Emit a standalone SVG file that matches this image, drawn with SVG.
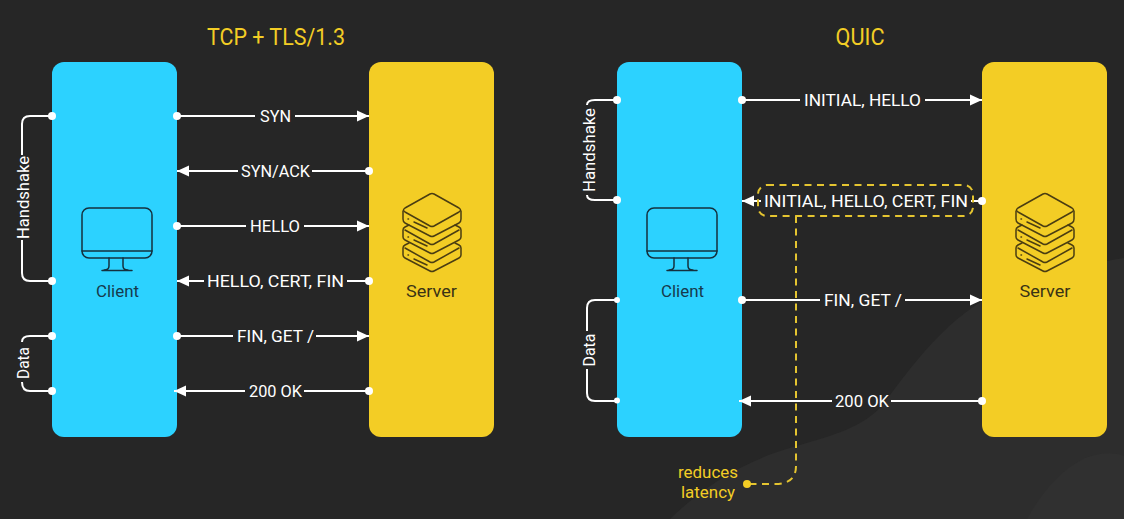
<svg xmlns="http://www.w3.org/2000/svg" width="1124" height="519" viewBox="0 0 1124 519">
<style>
text{font-family:"Roboto","Liberation Sans",sans-serif}
.l{fill:#fff;font-size:16.500px;text-anchor:middle}
.ln{fill:none;stroke:#fff;stroke-width:2}
.d{fill:#fff}
.nc{fill:#163a4d;font-size:16.500px;text-anchor:middle}
.ns{fill:#3a3315;font-size:16.500px;text-anchor:middle}
.ic{fill:none;stroke:#14303e;stroke-width:1.500;stroke-linejoin:round;stroke-linecap:round}
.ics{fill:none;stroke:#4a3d12;stroke-width:1.500;stroke-linejoin:round;stroke-linecap:round}
.y{fill:#f3cd25}
.t{fill:#f3cd25;font-size:24px;text-anchor:middle}
.dash{fill:none;stroke:#e4c430;stroke-width:2;stroke-dasharray:7 5.500}
.n{fill:#f3cd25;font-size:16px;text-anchor:middle}
</style>
<defs>
<marker id="a" markerWidth="12" markerHeight="12" refX="12" refY="6" orient="auto" markerUnits="userSpaceOnUse"><path d="M0 0.500L12 6L0 11.500Z" fill="#fff"/></marker>
<g id="monitor"><rect x="82" y="208" width="70" height="50" rx="7" class="ic"/><path d="M82 251H152M109 258V266Q109 270 104 270M123 258V266Q123 270 128 270M102 270.500H132" class="ic"/></g>
<g id="stack">
<path d="M1043 194L1018 208Q1015 210 1018 212L1043 226Q1045 227 1047 226L1072 212Q1075 210 1072 208L1047 194Q1045 193 1043 194Z" class="ics"/>
<path d="M1016 211V219Q1016 222 1018 223L1043 236Q1045 237 1047 236L1072 223Q1074 222 1074 219V211" class="ics"/>
<path d="M1022 225L1018 227Q1016 228 1016 230V237Q1016 239 1018 240L1043 253Q1045 254 1047 253L1072 240Q1074 239 1074 237V230Q1074 228 1072 227L1068 225M1018 230L1043 244Q1045 245 1047 244L1072 230" class="ics"/>
<path d="M1022 243L1018 245Q1016 246 1016 248V255Q1016 257 1018 258L1043 271Q1045 272 1047 271L1072 258Q1074 257 1074 255V248Q1074 246 1072 245L1068 243M1018 248L1043 262Q1045 263 1047 262L1072 248" class="ics"/>
<path d="M1027 222L1040 228M1027 240L1040 246M1027 259L1040 265M1021 219H1021.500M1021 237H1021.500M1021 255H1021.500" class="ics"/>
</g>
</defs>
<rect width="1124" height="519" fill="#262626"/>
<path d="M670 519C700 490 740 462 793 447C830 436 865 428 885 402C920 355 960 300 1030 280C1070 268 1100 262 1124 258V519Z" fill="#2d2d2d"/>
<path d="M1027 519C1040 495 1060 470 1085 458C1100 452 1115 452 1124 456V519Z" fill="#303030"/>
<text class="t" x="276" y="44.500" textLength="138" lengthAdjust="spacingAndGlyphs">TCP + TLS/1.3</text>
<text class="t" x="860" y="44.500" textLength="49" lengthAdjust="spacingAndGlyphs">QUIC</text>

<g id="client-left"><rect x="52" y="62" width="125" height="375" rx="12" fill="#2cd2ff"/><use href="#monitor"/><text class="nc" x="117.500" y="297" textLength="43" lengthAdjust="spacingAndGlyphs">Client</text></g>
<g id="server-left"><rect x="369" y="62" width="125" height="375" rx="12" class="y"/><use href="#stack" x="-613"/><text class="ns" x="431.500" y="297" textLength="51" lengthAdjust="spacingAndGlyphs">Server</text></g>
<g id="client-right"><rect x="617" y="62" width="125" height="375" rx="12" fill="#2cd2ff"/><use href="#monitor" x="565"/><text class="nc" x="682.500" y="297" textLength="43" lengthAdjust="spacingAndGlyphs">Client</text></g>
<g id="server-right"><rect x="982" y="62" width="125" height="375" rx="12" class="y"/><use href="#stack"/><text class="ns" x="1045" y="297" textLength="51" lengthAdjust="spacingAndGlyphs">Server</text></g>

<g id="connectors">
<path class="ln" d="M52 116H30Q22 116 22 124V155M22 240V273Q22 281 30 281H52"/>
<path class="ln" d="M52 336H30Q22 336 22 342M22 382Q22 391 30 391H52"/>
<path class="ln" d="M177 116H255M295 116H369" marker-end="url(#a)"/>
<path class="ln" d="M369 171H312M238 171H177" marker-end="url(#a)"/>
<path class="ln" d="M177 226H246M304 226H369" marker-end="url(#a)"/>
<path class="ln" d="M369 281H347M204 281H177" marker-end="url(#a)"/>
<path class="ln" d="M177 336H233M316 336H369" marker-end="url(#a)"/>
<path class="ln" d="M369 391H304M245 391H174" marker-end="url(#a)"/>
<path class="ln" d="M617 100H595Q587 100 587 105M587 195Q587 200 595 200H617"/>
<path class="ln" d="M617 300H595Q587 300 587 308V331M587 369V393Q587 401 595 401H617"/>
<path class="ln" d="M742 100H800M925 100H982" marker-end="url(#a)"/>
<path class="ln" d="M982 201H971M761 201H742" marker-end="url(#a)"/>
<path class="ln" d="M742 300H820M905 300H982" marker-end="url(#a)"/>
<path class="ln" d="M982 401H891M832 401H739" marker-end="url(#a)"/>
<rect class="dash" x="758" y="185" width="215" height="31" rx="9"/>
<path class="dash" d="M796 216V466Q796 484 775 484H750"/>
</g>
<g class="d">
<circle cx="52" cy="116" r="4"/><circle cx="52" cy="281" r="4"/><circle cx="52" cy="336" r="4"/><circle cx="52" cy="391" r="4"/>
<circle cx="177" cy="116" r="4"/><circle cx="369" cy="171" r="4"/><circle cx="177" cy="226" r="4"/><circle cx="369" cy="281" r="4"/><circle cx="177" cy="336" r="4"/><circle cx="369" cy="391" r="4"/>
<circle cx="617" cy="100" r="4"/><circle cx="617" cy="200" r="4"/><circle cx="617" cy="300" r="3"/><circle cx="617" cy="400.500" r="3"/>
<circle cx="742" cy="100" r="4"/><circle cx="982" cy="201" r="4"/><circle cx="742" cy="300" r="4"/><circle cx="982" cy="401" r="4"/>
</g>
<circle class="y" cx="747" cy="484" r="4"/>

<g id="labels">
<text class="l" x="275.500" y="121.500" textLength="31" lengthAdjust="spacingAndGlyphs">SYN</text>
<text class="l" x="275.500" y="176.500" textLength="69" lengthAdjust="spacingAndGlyphs">SYN/ACK</text>
<text class="l" x="275" y="231.500" textLength="50" lengthAdjust="spacingAndGlyphs">HELLO</text>
<text class="l" x="275.500" y="286.500" textLength="137" lengthAdjust="spacingAndGlyphs">HELLO, CERT, FIN</text>
<text class="l" x="275.500" y="341.500" textLength="77" lengthAdjust="spacingAndGlyphs">FIN, GET /</text>
<text class="l" x="275.500" y="396.500" textLength="53" lengthAdjust="spacingAndGlyphs">200 OK</text>
<text class="l" x="862.500" y="105.500" textLength="117" lengthAdjust="spacingAndGlyphs">INITIAL, HELLO</text>
<text class="l" x="866" y="207" textLength="204" lengthAdjust="spacingAndGlyphs">INITIAL, HELLO, CERT, FIN</text>
<text class="l" x="863" y="305.500" textLength="78" lengthAdjust="spacingAndGlyphs">FIN, GET /</text>
<text class="l" x="862" y="406.500" textLength="54" lengthAdjust="spacingAndGlyphs">200 OK</text>
<text class="l" transform="translate(29 197.500) rotate(-90)" textLength="83" lengthAdjust="spacingAndGlyphs">Handshake</text>
<text class="l" transform="translate(29 363) rotate(-90)" textLength="32" lengthAdjust="spacingAndGlyphs">Data</text>
<text class="l" transform="translate(594.500 150) rotate(-90)" textLength="84" lengthAdjust="spacingAndGlyphs">Handshake</text>
<text class="l" transform="translate(594.500 350) rotate(-90)" textLength="33" lengthAdjust="spacingAndGlyphs">Data</text>
<text class="n" x="708" y="478" textLength="60" lengthAdjust="spacingAndGlyphs">reduces</text>
<text class="n" x="708" y="498" textLength="54" lengthAdjust="spacingAndGlyphs">latency</text>
</g>
</svg>
